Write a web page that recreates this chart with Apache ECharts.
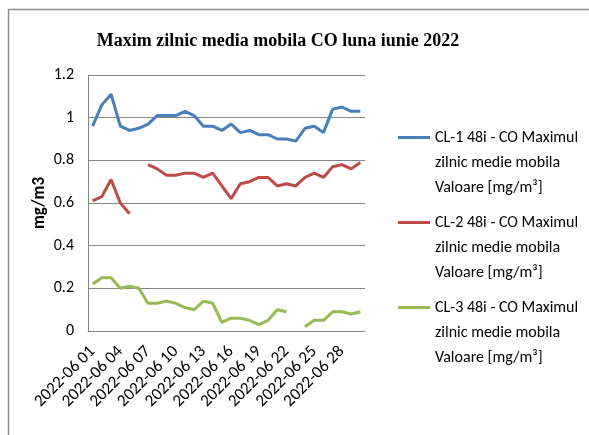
<!DOCTYPE html>
<html>
<head>
<meta charset="utf-8">
<script src="https://cdn.jsdelivr.net/npm/echarts@6/dist/echarts.min.js"></script>
<style>
  html, body { margin: 0; padding: 0; background: #ffffff; }
  #chart { width: 589px; height: 435px; }
</style>
</head>
<body>
<div id="chart"></div>
<script>
// zilele lunii iunie 2022
var days = [];
for (var d = 1; d <= 30; d++) {
  days.push('2022-06 ' + (d < 10 ? '0' + d : d));
}

var cl1 = [0.96, 1.06, 1.11, 0.96, 0.94, 0.95, 0.97, 1.01, 1.01, 1.01,
           1.03, 1.01, 0.96, 0.96, 0.94, 0.97, 0.93, 0.94, 0.92, 0.92,
           0.90, 0.90, 0.89, 0.95, 0.96, 0.93, 1.04, 1.05, 1.03, 1.03];
var cl2 = [0.61, 0.63, 0.71, 0.60, 0.55, null, 0.78, 0.76, 0.73, 0.73,
           0.74, 0.74, 0.72, 0.74, 0.68, 0.62, 0.69, 0.70, 0.72, 0.72,
           0.68, 0.69, 0.68, 0.72, 0.74, 0.72, 0.77, 0.78, 0.76, 0.79];
var cl3 = [0.22, 0.25, 0.25, 0.20, 0.21, 0.20, 0.13, 0.13, 0.14, 0.13,
           0.11, 0.10, 0.14, 0.13, 0.04, 0.06, 0.06, 0.05, 0.03, 0.05,
           0.10, 0.09, null, 0.02, 0.05, 0.05, 0.09, 0.09, 0.08, 0.09];

var names = [
  'CL-1 48i - CO Maximul\nzilnic medie mobila\nValoare [mg/m³]',
  'CL-2 48i - CO Maximul\nzilnic medie mobila\nValoare [mg/m³]',
  'CL-3 48i - CO Maximul\nzilnic medie mobila\nValoare [mg/m³]'
];
var colors = ['#4a7ebb', '#be4b48', '#98b954'];
var font = 'Carlito, Lato, sans-serif';

// linie sus, restul gol ca sa stea in dreptul primului rand de text
var legendIcon = 'path://M0,0 L0.001,0 L0,75 Z M0,11 L32,11 L32,14 L0,14 Z';

var myChart = echarts.init(document.getElementById('chart'));
myChart.setOption({
  animation: false,
  color: colors,
  title: {
    text: 'Maxim zilnic media mobila CO luna iunie 2022',
    left: 273,
    top: 27,
    textAlign: 'center',
    textStyle: {
      fontFamily: 'Liberation Serif',
      fontWeight: 'bold',
      fontSize: 18,
      color: '#000'
    }
  },
  graphic: [{
    type: 'rect',
    left: 6,
    top: 7,
    shape: { width: 700, height: 600 },
    style: { fill: 'none', stroke: '#8c8c8c', lineWidth: 1.5 },
    silent: true
  }],
  legend: {
    orient: 'vertical',
    left: 398,
    top: 125,
    padding: 0,
    itemWidth: 32,
    itemHeight: 75,
    itemGap: 10,
    itemStyle: { borderWidth: 0 },
    lineStyle: { width: 0 },
    icon: legendIcon,
    data: names,
    textStyle: {
      fontFamily: font,
      fontSize: 16,
      lineHeight: 25,
      color: '#000'
    }
  },
  grid: {
    left: 88,
    right: 224,
    top: 75,
    bottom: 104
  },
  xAxis: {
    type: 'category',
    data: days,
    boundaryGap: true,
    axisLine: { lineStyle: { color: '#868686' } },
    axisTick: { show: false },
    axisLabel: {
      interval: 2,
      rotate: 45,
      fontFamily: font,
      fontSize: 17,
      color: '#000',
      margin: 18
    }
  },
  yAxis: {
    type: 'value',
    min: 0,
    max: 1.2,
    interval: 0.2,
    name: 'mg/m3',
    nameLocation: 'middle',
    nameGap: 40,
    nameTextStyle: {
      fontFamily: font,
      fontWeight: 'bold',
      fontSize: 17,
      color: '#000'
    },
    axisLine: { show: true, lineStyle: { color: '#868686' } },
    axisTick: { show: false },
    splitLine: { lineStyle: { color: '#868686' } },
    axisLabel: {
      fontFamily: font,
      fontSize: 16,
      color: '#000',
      margin: 14,
      formatter: function (v) { return String(Math.round(v * 10) / 10); }
    }
  },
  series: [
    { name: names[0], type: 'line', data: cl1, showSymbol: false, lineStyle: { width: 3 } },
    { name: names[1], type: 'line', data: cl2, showSymbol: false, lineStyle: { width: 3 } },
    { name: names[2], type: 'line', data: cl3, showSymbol: false, lineStyle: { width: 3 } }
  ]
});
</script>
</body>
</html>
